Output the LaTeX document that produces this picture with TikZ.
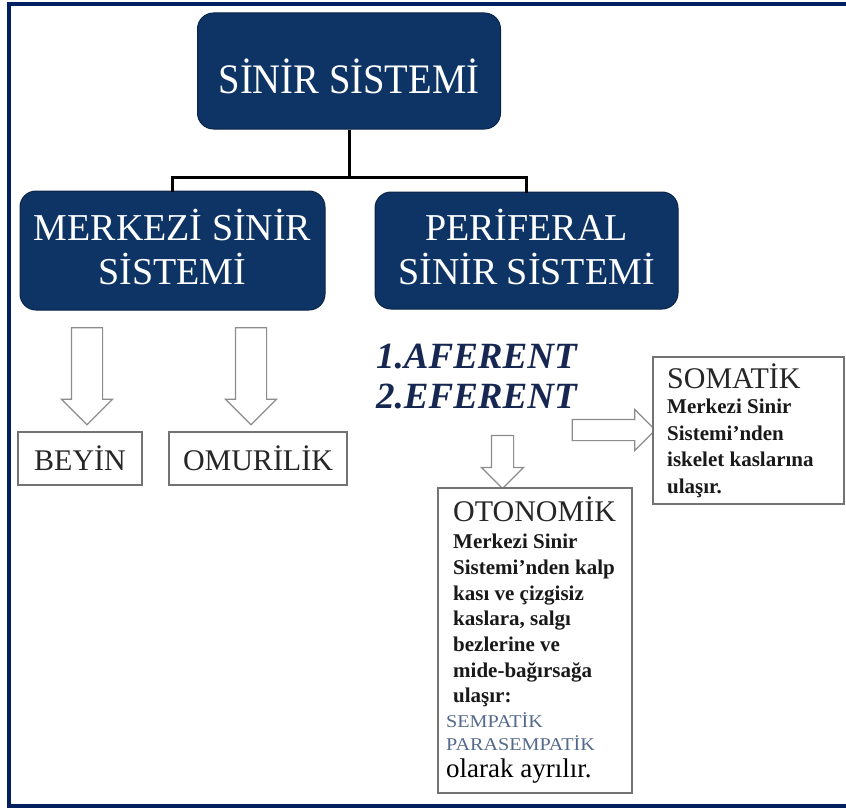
\documentclass[tikz,border=0pt]{standalone}
\usepackage{fontspec}
\setmainfont{Liberation Serif}
\usetikzlibrary{shapes.arrows}
\definecolor{navy}{RGB}{0,32,96}
\definecolor{boxblue}{RGB}{14,52,102}
\definecolor{txtnavy}{RGB}{22,40,82}
\definecolor{arrowgray}{RGB}{140,140,140}
\definecolor{boxgray}{RGB}{115,115,115}
\definecolor{sympa}{RGB}{84,106,140}
\begin{document}
\begin{tikzpicture}[x=1pt,y=-1pt,
  bluebox/.style={draw=boxblue!70!black, fill=boxblue, rounded corners=16pt, line width=1pt, inner sep=0pt},
  bigtitle/.style={text=white, inner sep=0pt, align=center, font=\fontsize{38}{44}\selectfont},
  leafbox/.style={draw=boxgray, line width=1.2pt, fill=white, inner sep=0pt, font=\fontsize{30}{30}\selectfont, text=black!85},
  infobox/.style={draw=boxgray, line width=1.6pt, fill=white, inner sep=0pt},
  bigarrow/.style={single arrow, draw=arrowgray, fill=white, line width=1.2pt, single arrow head extend=10pt, single arrow tip angle=90, inner sep=15pt, minimum width=50pt, rotate=-90},
  smallarrow/.style={single arrow, draw=arrowgray, fill=white, line width=1.2pt, single arrow head extend=10pt, single arrow tip angle=90, inner sep=10pt, minimum width=40pt},
  conn/.style={draw=black, line width=3pt},
  head/.style={inner sep=0pt, anchor=base west, font=\fontsize{30}{30}\selectfont, text=black!85},
  body/.style={inner sep=0pt, anchor=north west, align=left, text=black!90},
  symp/.style={inner sep=0pt, anchor=base west, text=sympa, font=\fontsize{18}{18}\selectfont},
]
\useasboundingbox (0,0) rectangle (846,808);
% frame
\fill[navy] (7,2) rectangle (846,6);
\fill[navy] (7,2) rectangle (11,808);
\fill[navy] (7,804) rectangle (846,808);

% boxes and connectors
\node[bluebox, minimum width=303pt, minimum height=116pt] (top) at (349,71) {};
\node[bluebox, minimum width=305pt, minimum height=119pt] (mss) at (172.5,250.5) {};
\node[bluebox, minimum width=303pt, minimum height=117pt] (pss) at (526.5,250.5) {};
\coordinate (jn) at (349,177);
\draw[conn] (top.south) -- (jn);
\draw[conn, line cap=rect] (mss.north) |- (jn) -| (pss.north);

\node[text=white, inner sep=0pt, anchor=base] (toptext) at ([yshift=-22pt]top.center)
  {\fontsize{42}{42}\selectfont\scalebox{0.92}[1]{SİNİR SİSTEMİ}};
\node[bigtitle] (msstext) at ([yshift=3pt]mss.center) {MERKEZİ SİNİR\\SİSTEMİ};
\node[bigtitle] (psstext) at ([yshift=3pt]pss.center) {PERİFERAL\\SİNİR SİSTEMİ};

% left arrows and leaves
\node[bigarrow, minimum height=97pt] (a1) at (87,368.5) {};
\node[bigarrow, minimum height=97pt] (a2) at (251,368.5) {};
\node[leafbox, minimum width=124pt, minimum height=53pt] (beyin) at (80,458.5) {BEYİN};
\node[leafbox, minimum width=178pt, minimum height=53pt] (omur) at (258,458.5) {OMURİLİK};

% afferent / efferent
\node[inner sep=0pt, anchor=base west, text=txtnavy, font=\fontsize{37}{37}\selectfont\bfseries\itshape] (aff) at (376,368) {1.AFERENT};
\node[inner sep=0pt, anchor=base west, text=txtnavy, font=\fontsize{37}{37}\selectfont\bfseries\itshape] (eff) at (376,408) {2.EFERENT};

% small arrows
\node[smallarrow, minimum height=53pt, inner sep=10.5pt, minimum width=41pt, rotate=-90] (a3) at (502.5,456.5) {};
\node[smallarrow, minimum height=83pt] (a4) at (608.5,430) {};

% SOMATIK box
\node[infobox, minimum width=191pt, minimum height=147pt] (som) at (748.5,430.5) {};
\node[head] (somh) at (667,388) {SOMATİK};
\node[body, font=\fontsize{21}{26.6}\selectfont\bfseries] (somb) at (667,399)
  {Merkezi Sinir\\Sistemi’nden\\iskelet kaslarına\\ulaşır.};

% OTONOMIK box
\node[infobox, minimum width=194pt, minimum height=305pt] (oto) at (535,640.5) {};
\node[head] (otoh) at (453,521) {OTONOMİK};
\node[body, font=\fontsize{21}{25.7}\selectfont\bfseries] (otob) at (453,534)
  {Merkezi Sinir\\Sistemi’nden kalp\\kası ve çizgisiz\\kaslara, salgı\\bezlerine ve\\mide-bağırsağa\\ulaşır:};
\node[symp] (semp) at (446,727) {\scalebox{1.12}[1]{SEMPATİK}};
\node[symp] (para) at (446,750) {\scalebox{1.12}[1]{PARASEMPATİK}};
\node[inner sep=0pt, anchor=base west, text=black, font=\fontsize{27}{27}\selectfont] (olarak) at (446,777) {olarak ayrılır.};
\end{tikzpicture}
\end{document}
